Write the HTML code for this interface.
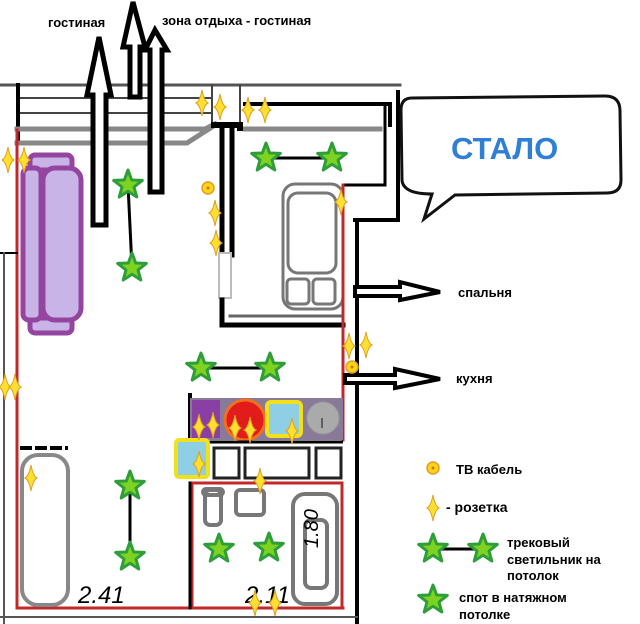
<!DOCTYPE html>
<html><head><meta charset="utf-8"><style>
html,body{margin:0;padding:0;background:#fff;width:640px;height:624px;overflow:hidden}
text{font-family:"Liberation Sans",sans-serif;font-weight:bold}
</style></head><body>
<svg width="640" height="624" viewBox="0 0 640 624" xmlns="http://www.w3.org/2000/svg">
<defs>
<path id="st" d="M0,-15 L3.7,-5 L14.3,-4.6 L6,2 L8.8,12 L0,6.3 L-8.8,12 L-6,2 L-14.3,-4.6 L-3.7,-5Z" fill="#7ed321" stroke="#2e9e3a" stroke-width="3" stroke-linejoin="round"/>
<path id="sp" d="M0,-13 Q2,-2 6,0 Q2,2 0,13 Q-2,2 -6,0 Q-2,-2 0,-13Z" fill="#ffe030" stroke="#e0a020" stroke-width="1"/>
<g id="ci"><circle r="6" fill="#ffd21e" stroke="#e0a020" stroke-width="1.5"/><circle r="1.5" fill="#c08000"/></g>
</defs>
<g fill="none" stroke-linecap="square">
<line x1="0" y1="85" x2="400" y2="85" stroke="#555" stroke-width="3"/>
<line x1="18" y1="98" x2="212" y2="98" stroke="#444" stroke-width="2"/>
<line x1="18" y1="113" x2="212" y2="113" stroke="#444" stroke-width="2"/>
<line x1="18" y1="85" x2="18" y2="140" stroke="#000" stroke-width="4"/>
<line x1="212" y1="85" x2="212" y2="127" stroke="#444" stroke-width="2"/>
<line x1="240" y1="85" x2="240" y2="127" stroke="#444" stroke-width="2"/>
<polyline points="245,104 390,104 390,125" stroke="#000" stroke-width="4"/>
<line x1="398" y1="92" x2="398" y2="220" stroke="#000" stroke-width="4"/>
<line x1="355" y1="220" x2="398" y2="220" stroke="#000" stroke-width="4"/>
<line x1="357" y1="220" x2="357" y2="624" stroke="#000" stroke-width="4"/>
<polyline points="17,129 205,129 215,124" stroke="#888" stroke-width="5"/>
<polyline points="17,143 187,143 212,127" stroke="#888" stroke-width="5"/>
<line x1="245" y1="129" x2="380" y2="129" stroke="#888" stroke-width="5"/>
<polyline points="214,125 240,125 240,128" stroke="#000" stroke-width="6"/>
<line x1="222" y1="128" x2="222" y2="300" stroke="#000" stroke-width="5"/>
<line x1="232" y1="128" x2="232" y2="255" stroke="#000" stroke-width="5"/>
<rect x="219" y="253" width="12" height="45" stroke="#bbb" stroke-width="2" fill="#fff"/>
<polyline points="222,300 222,325 343,325" stroke="#000" stroke-width="5"/>
<line x1="230" y1="316" x2="343" y2="316" stroke="#666" stroke-width="3"/>
<polyline points="343,185 385,185 385,104" stroke="#000" stroke-width="3"/>
<rect x="283" y="184" width="60" height="125" rx="12" stroke="#777" stroke-width="3"/>
<rect x="288" y="193" width="48" height="80" rx="10" stroke="#777" stroke-width="3"/>
<rect x="287" y="279" width="22" height="25" rx="4" stroke="#777" stroke-width="3"/>
<rect x="313" y="279" width="22" height="25" rx="4" stroke="#777" stroke-width="3"/>
<line x1="17" y1="130" x2="17" y2="608" stroke="#c0282a" stroke-width="3"/>
<line x1="343" y1="185" x2="343" y2="440" stroke="#c0282a" stroke-width="3"/>
<line x1="17" y1="608" x2="343" y2="608" stroke="#c0282a" stroke-width="3"/>
<rect x="192" y="483" width="150" height="125" stroke="#c0282a" stroke-width="3"/>
<line x1="0" y1="253" x2="17" y2="253" stroke="#000" stroke-width="2"/>
<line x1="4" y1="253" x2="4" y2="624" stroke="#555" stroke-width="2"/>
<line x1="0" y1="617" x2="357" y2="617" stroke="#555" stroke-width="2"/>
<line x1="190" y1="395" x2="190" y2="440" stroke="#000" stroke-width="4"/>
<line x1="190" y1="483" x2="190" y2="608" stroke="#000" stroke-width="3"/>
</g>
<g fill="#c8b4e6" stroke="#93459f" stroke-width="5">
<rect x="30" y="155" width="42" height="15" rx="5"/>
<rect x="30" y="318" width="42" height="15" rx="5"/>
<rect x="23" y="168" width="18" height="152" rx="6"/>
<rect x="43" y="168" width="38" height="152" rx="12"/>
</g>
<rect x="22" y="455" width="46" height="150" rx="16" fill="none" stroke="#888" stroke-width="4"/>
<line x1="20" y1="448" x2="68" y2="448" stroke="#000" stroke-width="4" stroke-dasharray="12,3"/>
<rect x="190" y="398" width="153" height="42" fill="#8a7a9a"/>
<rect x="192" y="400" width="28" height="38" fill="#8a3fa5"/>
<circle cx="245" cy="420" r="20" fill="#e21b1b" stroke="#f07020" stroke-width="3"/>
<rect x="267" y="402" width="34" height="34" rx="4" fill="#8ecfe6" stroke="#f2e01a" stroke-width="4"/>
<circle cx="323" cy="418" r="16" fill="#aaa" stroke="#999"/>
<line x1="322" y1="418" x2="322" y2="428" stroke="#444" stroke-width="1.5"/>
<line x1="190" y1="442" x2="343" y2="442" stroke="#000" stroke-width="3"/>
<rect x="176" y="440" width="32" height="37" rx="3" fill="#8ecfe6" stroke="#f2e01a" stroke-width="4"/>
<g fill="none" stroke="#222" stroke-width="3">
<rect x="214" y="448" width="25" height="30"/><rect x="245" y="448" width="64" height="30"/><rect x="316" y="448" width="25" height="30"/>
</g>
<g fill="none" stroke="#777" stroke-width="4">
<rect x="205" y="490" width="16" height="35" rx="5"/>
<rect x="203" y="489" width="20" height="6" rx="3"/>
<rect x="236" y="490" width="28" height="25" rx="4"/>
<rect x="293" y="494" width="44" height="110" rx="12"/>
<rect x="305" y="520" width="22" height="68" rx="6"/>
</g>
<text x="320" y="550" font-size="20" font-style="italic" transform="rotate(-90 318 550)" style="font-weight:normal">1.80</text>
<text x="78" y="603" font-size="24" font-style="italic" style="font-weight:normal">2.41</text>
<text x="245" y="603" font-size="24" font-style="italic" style="font-weight:normal">2.11</text>
<g fill="#fff" stroke="#000" stroke-width="5" stroke-linejoin="miter">
<path d="M99,37 L111,95 L106,95 L106,225 L93,225 L93,95 L87,95Z"/>
<path d="M155,30 L167,50 L162,50 L162,192 L150,192 L150,50 L145,50Z"/>
<path d="M133,2 L145,47 L140,47 L140,97 L130,97 L130,47 L123,47Z"/>
<path d="M355,287 L400,287 L400,282 L440,292 L400,300 L400,296 L355,296Z" stroke-width="4"/>
<path d="M345,375 L395,375 L395,369 L440,379 L395,388 L395,383 L345,383Z" stroke-width="4"/>
</g>
<g stroke="#000" stroke-width="3">
<line x1="128" y1="185" x2="132" y2="268"/><line x1="266" y1="158" x2="332" y2="158"/>
<line x1="201" y1="368" x2="270" y2="368"/><line x1="130" y1="486" x2="130" y2="557"/>
<line x1="433" y1="549" x2="483" y2="549"/>
</g>
<g>
<use href="#st" x="128" y="185"/><use href="#st" x="132" y="268"/><use href="#st" x="266" y="158"/><use href="#st" x="332" y="158"/>
<use href="#st" x="201" y="368"/><use href="#st" x="270" y="368"/><use href="#st" x="130" y="486"/><use href="#st" x="130" y="557"/>
<use href="#st" x="219" y="549"/><use href="#st" x="269" y="548"/><use href="#st" x="433" y="549"/><use href="#st" x="483" y="549"/><use href="#st" x="433" y="600"/>
</g>
<g>
<use href="#sp" x="8" y="160"/><use href="#sp" x="24" y="160"/><use href="#sp" x="202" y="103"/><use href="#sp" x="220" y="107"/>
<use href="#sp" x="248" y="110"/><use href="#sp" x="265" y="110"/><use href="#sp" x="215" y="213"/><use href="#sp" x="216" y="243"/>
<use href="#sp" x="341" y="202"/><use href="#sp" x="349" y="346"/><use href="#sp" x="366" y="345"/><use href="#sp" x="5" y="387"/>
<use href="#sp" x="15" y="387"/><use href="#sp" x="31" y="478"/><use href="#sp" x="199" y="427"/><use href="#sp" x="213" y="425"/>
<use href="#sp" x="235" y="428"/><use href="#sp" x="250" y="430"/><use href="#sp" x="292" y="431"/><use href="#sp" x="199" y="464"/>
<use href="#sp" x="260" y="481"/><use href="#sp" x="255" y="603"/><use href="#sp" x="275" y="603"/><use href="#sp" x="433" y="508"/>
</g>
<use href="#ci" x="208" y="188"/><use href="#ci" x="352" y="367"/><use href="#ci" x="433" y="468"/>
<path d="M412,98 L605,96 Q620,96 620,111 L621,180 Q621,193 607,193 L455,195 L424,219 L432,194 Q403,194 402,180 L401,110 Q401,98 412,98Z" fill="#fff" stroke="#111" stroke-width="3"/>
<text x="451" y="159" font-size="31" fill="#2f7fd6">СТАЛО</text>
<g font-size="13" fill="#000">
<text x="48" y="27">гостиная</text>
<text x="162" y="25">зона отдыха - гостиная</text>
<text x="458" y="297">спальня</text>
<text x="456" y="383">кухня</text>
<text x="456" y="474">ТВ кабель</text>
<text x="446" y="512" font-size="14">- розетка</text>
<text x="507" y="547">трековый</text>
<text x="507" y="564">светильник на</text>
<text x="507" y="580">потолок</text>
<text x="459" y="602">спот в натяжном</text>
<text x="459" y="619">потолке</text>
</g>
</svg>
</body></html>
